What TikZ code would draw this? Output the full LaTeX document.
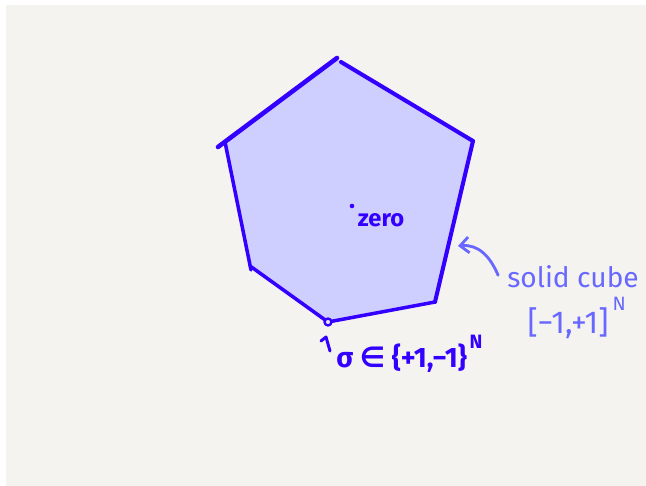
\documentclass[tikz,border=0pt]{standalone}
\usepackage{fontspec}
\setmainfont{Fira Sans}
\newfontfamily\symfont{DejaVu Sans}
\usetikzlibrary{arrows.meta,positioning}
\definecolor{cubeblue}{RGB}{51,0,255}
\definecolor{cubefill}{RGB}{207,207,255}
\definecolor{notelilac}{RGB}{104,104,255}
\definecolor{paper}{RGB}{244,243,239}

\begin{document}
\begin{tikzpicture}[x=0.02cm,y=-0.02cm,>=Stealth,line cap=round,line join=round,
  edge/.style={cubeblue,line width=2pt},
  note/.style={notelilac,font=\fontsize{16}{19}\selectfont,inner sep=0pt},
  inktext/.style={cubeblue,font=\fontsize{15}{18}\selectfont\bfseries,inner sep=0pt},
  power/.style={font=\fontsize{10}{12}\selectfont,inner sep=0pt}]
 \useasboundingbox (0,0) rectangle (646,486);
 \fill[white] (0,0) rectangle (646,486);
 \fill[paper] (6,5) rectangle (646,486);
 % the cube, seen as a pentagon
 \coordinate (ul) at (225,142);
 \coordinate (top) at (338,60);
 \coordinate (ur) at (473,141);
 \coordinate (lr) at (435,302);
 \coordinate (vert) at (328,322);
 \coordinate (ll) at (250,266);
 \fill[cubefill] (ul)--(top)--(ur)--(lr)--(vert)--(ll)--cycle;
 \draw[edge,line width=2.6pt] (218,147)--(337,58);
 \draw[edge,line width=2.3pt] (341,62)--(ur);
 \draw[edge,line width=2.3pt] (ur)--(lr);
 \draw[edge] (lr)--(vert);
 \draw[edge] (vert)--(ll);
 \draw[edge] (251,270)--(ul);
 \draw[cubeblue,line width=1.3pt,fill=cubefill!60!white] (vert) circle (3.5);
 % centre
 \fill[cubeblue] (352,206) circle (2.3);
 \node[inktext,font=\fontsize{13.5}{15}\selectfont\bfseries] (zero) at (381,220) {zero};
 % solid cube note
 \node[note] (solid) at (573,277) {solid cube};
 \node[note,font=\fontsize{18}{21}\selectfont,anchor=north] (range) at (568,307) {[−1,+1]};
 \node[power,notelilac,font=\fontsize{11}{13}\selectfont,anchor=south west] (rangeN)
   at ([xshift=2pt,yshift=-2pt]range.north east) {N};
 \coordinate (hit) at (458,246);
 \draw[notelilac,line width=1.6pt,-{Straight Barb[length=5pt,width=9pt]}]
   ([xshift=-5pt,yshift=1pt]solid.west) .. controls (490,256) and (478,244) .. (hit);
 % vertex label
 \node[inktext,font=\fontsize{16}{19}\selectfont\bfseries,anchor=west] (sigma) at (336,358)
   {σ {\symfont∈} \{+1,−1\}};
 \node[power,cubeblue,font=\fontsize{11}{13}\selectfont\bfseries,anchor=south west] (sigmaN)
   at ([xshift=1pt,yshift=-3pt]sigma.north east) {N};
 \coordinate (hookfoot) at (330,351);
 \coordinate (hooktop) at (326,337);
 \draw[cubeblue,line width=1.7pt] (hookfoot)--(hooktop)--++(-5,4);
\end{tikzpicture}
\end{document}
